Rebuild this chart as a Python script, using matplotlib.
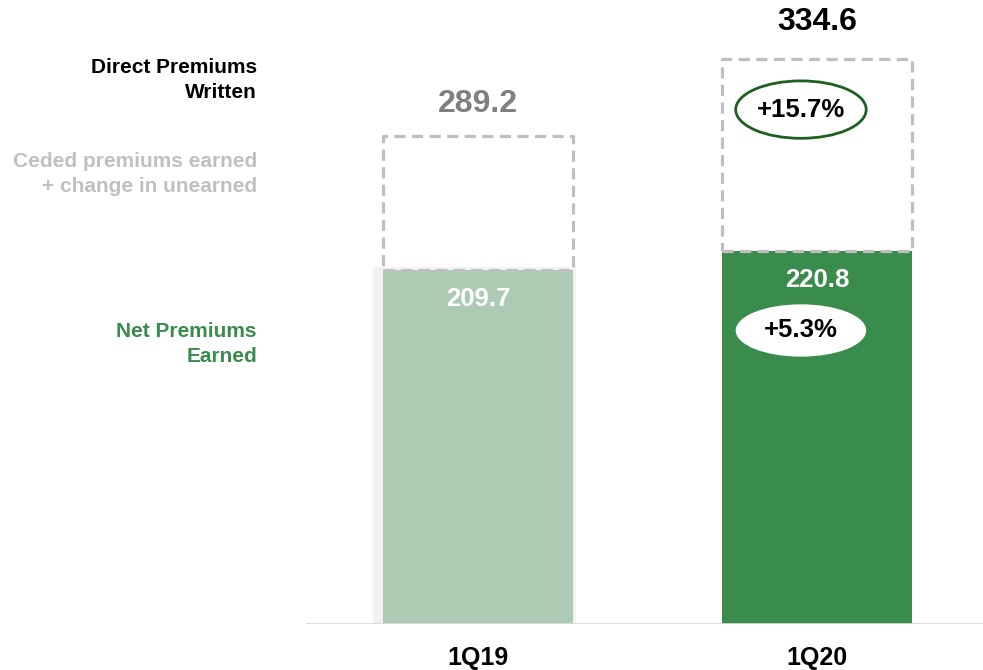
import numpy as np
import matplotlib
matplotlib.use("Agg")
import matplotlib.pyplot as plt
from matplotlib.patches import Ellipse

plt.rcParams["font.family"] = ["Liberation Sans", "DejaVu Sans"]
plt.rcParams["font.weight"] = "bold"

# %% data
quarters = ["1Q19", "1Q20"]
net_earned = [209.7, 220.8]
direct_written = [289.2, 334.6]
growth_written = "+15.7%"
growth_earned = "+5.3%"

net_colors = ["#accbb2", "#3a8c4c"]
dash_color = "#bfbfbf"

# %% figure
fig = plt.figure(figsize=(9.83, 6.70), dpi=100)
ax = fig.add_axes([306 / 983, 46 / 670, 677 / 983, 624 / 670])
x = np.arange(len(quarters))
w = 0.56

# soft backdrop behind last year's bar
ax.bar(x[0] - 0.01, net_earned[0] + 1.5, width=0.6, color="#f2f2f2", zorder=1)

ax.bar(x, net_earned, width=w, color=net_colors, zorder=2)
ceded = [d - n for d, n in zip(direct_written, net_earned)]
ax.bar(x, ceded, bottom=net_earned, width=w, fill=False,
       edgecolor=dash_color, linewidth=2.3, linestyle=(0, (3.5, 2.0)),
       joinstyle="round", zorder=3)

ax.axhline(0, color="#d9d9d9", linewidth=2.0, zorder=4)

# value labels
for xi, n in zip(x, net_earned):
    ax.text(xi, n - 17, f"{n:.1f}", ha="center", va="center",
            color="white", fontsize=18.5, zorder=5)
ax.text(x[0], direct_written[0] + 19, f"{direct_written[0]:.1f}", ha="center",
        va="center", color="#808080", fontsize=23)
ax.text(x[1], direct_written[1] + 22, f"{direct_written[1]:.1f}", ha="center",
        va="center", color="black", fontsize=23, clip_on=False)

# growth bubbles
ex = x[1] - 0.047
ax.add_patch(Ellipse((ex, direct_written[1] - 30), 0.385, 34,
                     facecolor="white", edgecolor="#1f5f1f", linewidth=2, zorder=5))
ax.text(ex, direct_written[1] - 30, growth_written, ha="center", va="center",
        fontsize=18.5, color="black", zorder=6)
ax.add_patch(Ellipse((ex, net_earned[1] - 47), 0.385, 31,
                     facecolor="white", edgecolor="none", zorder=5))
ax.text(ex, net_earned[1] - 47, growth_earned, ha="center", va="center",
        fontsize=18.5, color="black", zorder=6)

ax.set_xlim(-0.507, 1.49)
ax.set_ylim(0, 369.5)
ax.set_xticks(x)
ax.set_xticklabels(quarters, fontsize=18)
ax.tick_params(axis="x", length=0, pad=16)
ax.set_yticks([])
for s in ax.spines.values():
    s.set_visible(False)

# legend-style labels on the left
fig.text(257 / 983, 1 - 80 / 670, "Direct Premiums\nWritten", ha="right",
         va="center", fontsize=15, color="black", linespacing=1.45)
fig.text(257 / 983, 1 - 174 / 670, "Ceded premiums earned\n+ change in unearned",
         ha="right", va="center", fontsize=15, color="#c0c0c0", linespacing=1.45)
fig.text(257 / 983, 1 - 344 / 670, "Net Premiums\nEarned", ha="right",
         va="center", fontsize=15, color="#3a8c4c", linespacing=1.45)

fig.savefig("out.png", dpi=100)
